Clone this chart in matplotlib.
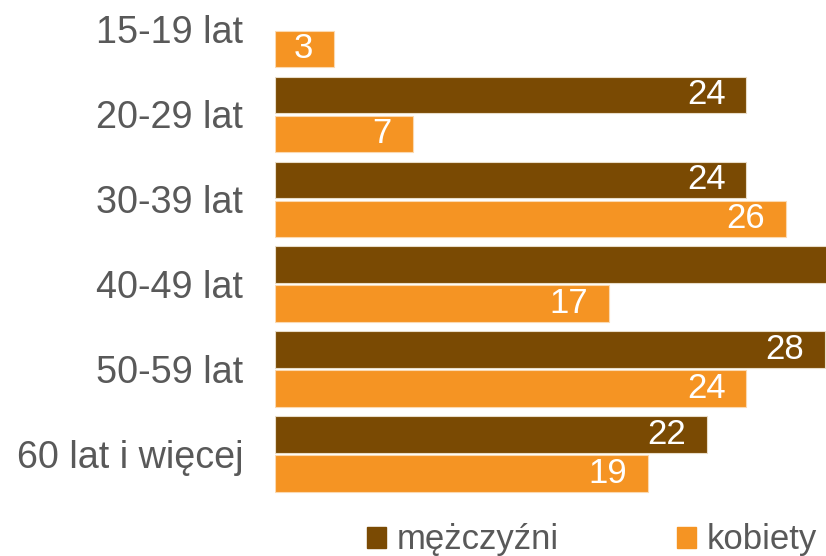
import matplotlib
matplotlib.use("Agg")
import matplotlib.pyplot as plt
from matplotlib.patches import Patch
import numpy as np

categories = ["15-19 lat", "20-29 lat", "30-39 lat", "40-49 lat", "50-59 lat", "60 lat i więcej"]
men = [0, 24, 24, 31, 28, 22]
women = [3, 7, 26, 17, 24, 19]
series_names = ["mężczyźni", "kobiety"]

c_men = "#7A4A03"
c_women = "#F59423"
text_c = "#595959"

plt.rcParams['font.family'] = ['Liberation Sans', 'DejaVu Sans']

fig = plt.figure(figsize=(8.26, 5.56), dpi=100)
ax = fig.add_axes([275 / 826, 0, 1 - 275 / 826, 1])

y = np.arange(len(categories))
h = 0.43
off = 0.23
bm = ax.barh(y - off, men, height=h, color=c_men, edgecolor="#E8DCC8", linewidth=0.8)
bw = ax.barh(y + off, women, height=h, color=c_women, edgecolor="#FBD9B0", linewidth=0.8)

ax.set_xlim(0, 28.05)
ax.set_ylim(6.201, -0.347)

for bars, vals in ((bm, men), (bw, women)):
    for b, v in zip(bars, vals):
        if v <= 0:
            b.set_visible(False)
            continue
        ax.annotate(str(v), xy=(v, b.get_y() + b.get_height() / 2),
                    xytext=(-15, 0), textcoords="offset points",
                    ha="right", va="center", color="white", fontsize=25,
                    clip_on=True, annotation_clip=True)

ax.set_yticks(y)
ax.set_yticklabels(categories, fontsize=27.2, color=text_c)
ax.tick_params(axis="y", length=0, pad=23)
ax.set_xticks([])
for s in ax.spines.values():
    s.set_visible(False)

handles = [Patch(color=c_men), Patch(color=c_women)]
fig.legend(handles, series_names, loc="center left", bbox_to_anchor=(367 / 826, 1 - 540 / 556),
           ncol=2, frameon=False, fontsize=25, labelcolor=text_c, borderpad=0, borderaxespad=0,
           handlelength=0.55, handleheight=0.55, handletextpad=0.3, columnspacing=3.4)

fig.savefig("out.png", dpi=100)
